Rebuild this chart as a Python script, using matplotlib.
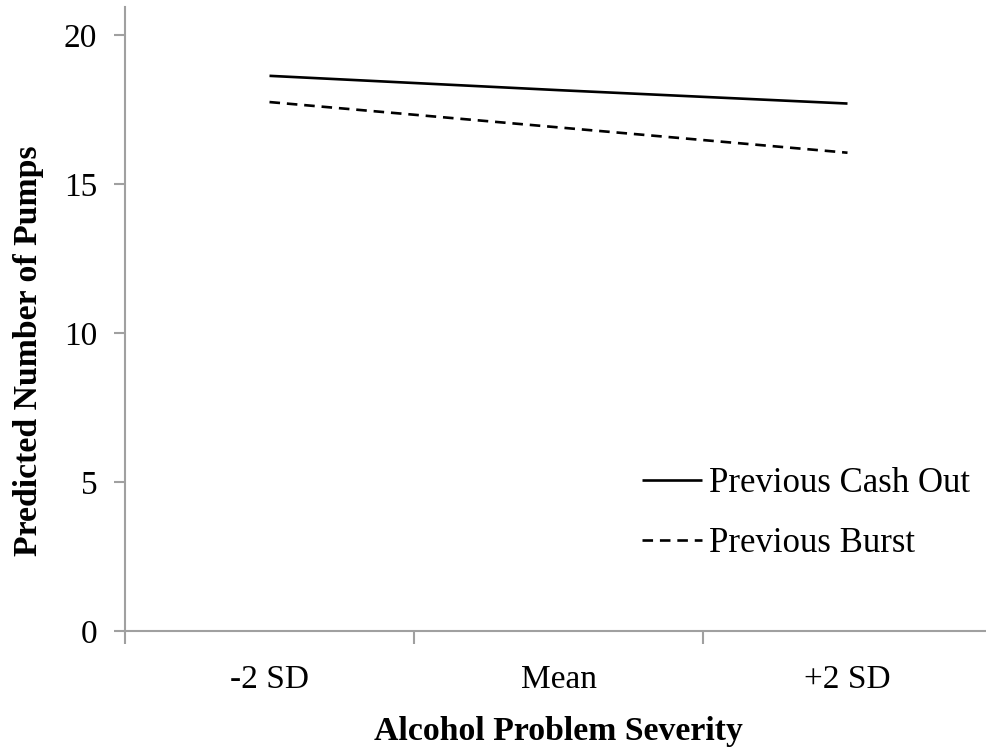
import matplotlib
matplotlib.use("Agg")
import matplotlib.pyplot as plt

categories = ["-2 SD", "Mean", "+2 SD"]
cash_out = [18.63, 18.15, 17.70]
burst = [17.75, 16.90, 16.05]
yticks = [0, 5, 10, 15, 20]

plt.rcParams['font.family'] = ['Liberation Serif', 'DejaVu Serif']
FS = 25
TFS = 24
LFS = 24.3

fig = plt.figure(figsize=(9.87, 7.49), dpi=100)
ax = fig.add_axes([125/987, 1-631/749, (992-125)/987, (631-7)/749])

x = list(range(len(categories)))
ax.plot(x, cash_out, color='black', lw=1.9, solid_capstyle='butt', label='Previous Cash Out')
ax.plot(x, burst, color='black', lw=1.9, ls=(0, (4, 2.6)), dash_capstyle='butt', label='Previous Burst')

ax.set_xlim(-0.5, 2.5)
ax.set_ylim(0, 20.94)
ax.set_yticks(yticks)
ax.set_xticks(x)
ax.set_xticklabels(categories)
ax.set_xticks([-0.5, 0.5, 1.5], minor=True)
ax.tick_params(axis='x', which='major', length=0, pad=24, labelsize=TFS)
ax.tick_params(axis='x', which='minor', length=9, width=1.5, color='#a0a0a0', direction='out')
ax.tick_params(axis='y', length=8, width=1.5, color='#a0a0a0', direction='out', pad=12, labelsize=TFS)

for s in ['top', 'right']:
    ax.spines[s].set_visible(False)
for s in ['left', 'bottom']:
    ax.spines[s].set_color('#a0a0a0')
    ax.spines[s].set_linewidth(1.5)

ax.set_xlabel('Alcohol Problem Severity', fontsize=LFS, fontweight='bold', labelpad=15)
ax.set_ylabel('Predicted Number of Pumps', fontsize=LFS, fontweight='bold')
ax.yaxis.set_label_coords(-0.0935, 0.45)

leg = ax.legend(loc='lower left', bbox_to_anchor=(642/987, 1-560/749), bbox_transform=fig.transFigure,
                frameon=False, fontsize=FS, handlelength=1.73, handletextpad=0.2, labelspacing=0.78,
                borderpad=0, borderaxespad=0)

fig.savefig('out.png', dpi=100)
